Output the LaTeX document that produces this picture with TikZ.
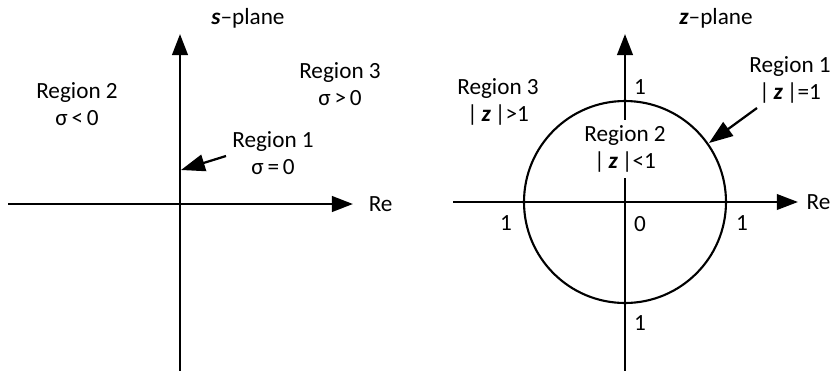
\documentclass[tikz,border=0pt]{standalone}
\usepackage{fontspec}
\setmainfont{Carlito}
\usetikzlibrary{arrows.meta}

\newcommand{\bz}{\textbf{\textit{z}}}
\tikzset{
  axis/.style={line width=2pt, -{Triangle[length=15pt, width=11pt]}},
  pointer/.style={line width=1.6pt, -{Triangle[length=17pt, width=12pt]}},
  lab/.style={align=center, inner sep=1pt},
}

\begin{document}
\begin{tikzpicture}[x=0.025cm, y=-0.025cm, font=\fontsize{16.5}{19}\selectfont]
  \useasboundingbox (0,0) rectangle (831,370);

  % s-plane
  \coordinate (sO) at (180,204);
  \coordinate (sW) at (8,204);
  \coordinate (sE) at (353,204);
  \coordinate (sS) at (180,372);
  \coordinate (sN) at (180,34);
  \draw[axis] (sW) -- (sE);
  \draw[axis] (sS) -- (sN);
  \node[lab, anchor=west, xshift=10pt] (sRe) at (sE) {Re};
  \node[lab] (stitle) at (248,18) {\textbf{\textit{s}}--plane};
  \node[lab] (sreg2) at (77,104) {Region 2\\σ\,<\,0};
  \node[lab] (sreg3) at (340,84) {Region 3\\σ\,>\,0};
  \node[lab] (sreg1) at (273,153) {Region 1\\σ\,=\,0};
  \coordinate (stip) at (181,170);
  \draw[pointer] (226,156) -- (stip);

  % z-plane
  \coordinate (zO) at (625,202);
  \coordinate (zW) at (453,202);
  \coordinate (zE) at (798,202);
  \coordinate (zS) at (625,372);
  \coordinate (zN) at (625,34);
  \draw[line width=1.6pt, -{Triangle[length=15pt, width=11pt]}] (zW) -- (zE);
  \draw[axis] (zS) -- (zN);
  \draw[line width=1.5pt] (zO) circle[radius=101];
  \node[lab, anchor=west, xshift=5pt] (zRe) at (zE) {Re};
  \node[lab] (ztitle) at (716,18) {\bz--plane};
  \node[lab] (zreg3) at (498,102) {Region 3\\|\,\bz\,|>1};
  \node[lab, fill=white, inner sep=4pt] (zreg2) at (625,149) {Region 2\\|\,\bz\,|<1};
  \node[lab] (zreg1) at (790,80) {Region 1\\|\,\bz\,|=1};
  \coordinate (ztip) at (709,143);
  \draw[pointer] (757,108) -- (ztip);
  \node[lab] (one-w) at (506,223) {1};
  \node[lab] (one-e) at (742,223) {1};
  \node[lab] (one-n) at (640,87) {1};
  \node[lab] (one-s) at (640,323) {1};
  \node[lab] (zero) at (640,224) {0};
\end{tikzpicture}
\end{document}
